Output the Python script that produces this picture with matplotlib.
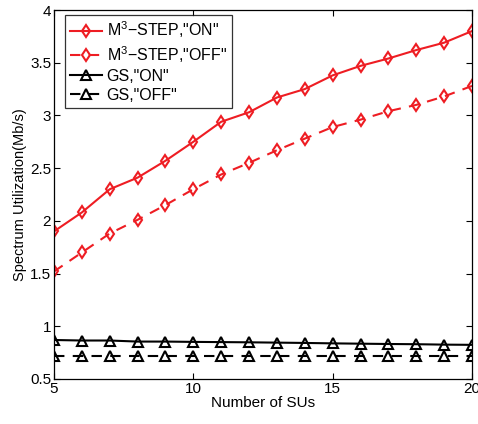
import matplotlib
matplotlib.use("Agg")
import matplotlib.pyplot as plt
from matplotlib.ticker import FormatStrFormatter

plt.rcParams['font.family'] = ['Liberation Sans', 'DejaVu Sans']
plt.rcParams['mathtext.fontset'] = 'custom'
plt.rcParams['mathtext.rm'] = 'Liberation Sans'

# --- data ---
num_sus = list(range(5, 21))
m3_on = [1.90, 2.08, 2.30, 2.41, 2.57, 2.75, 2.94, 3.03, 3.17, 3.25, 3.38, 3.47, 3.54, 3.62, 3.69, 3.80]
m3_off = [1.52, 1.70, 1.88, 2.01, 2.15, 2.30, 2.44, 2.55, 2.67, 2.78, 2.89, 2.96, 3.04, 3.10, 3.18, 3.28]
gs_on = [0.87, 0.865, 0.865, 0.855, 0.855, 0.852, 0.85, 0.848, 0.845, 0.842, 0.838, 0.835, 0.832, 0.83, 0.826, 0.824]
gs_off = [0.72, 0.72, 0.72, 0.72, 0.72, 0.72, 0.72, 0.72, 0.72, 0.72, 0.72, 0.72, 0.72, 0.72, 0.72, 0.72]

RED = '#ee1d23'

fig = plt.figure(figsize=(4.78, 4.24), dpi=100)
ax = fig.add_axes([54 / 478, 1 - 379 / 424, 418 / 478, 369 / 424])

ax.plot(num_sus, m3_on, '-', color=RED, lw=1.5, marker='d', ms=6.5,
        mfc='none', mew=1.5, label='M$^3$\u2212STEP,"ON"')
ax.plot(num_sus, m3_off, '--', color=RED, lw=1.5, marker='d', ms=6.5,
        mfc='none', mew=1.5, label='M$^3$\u2212STEP,"OFF"', dashes=(5, 4))
ax.plot(num_sus, gs_on, '-', color='black', lw=1.5, marker='^', ms=6.5,
        mfc='none', mew=1.5, label='GS,"ON"')
ax.plot(num_sus, gs_off, '--', color='black', lw=1.5, marker='^', ms=6.5,
        mfc='none', mew=1.5, label='GS,"OFF"', dashes=(5, 4))

ax.set_xlim(5, 20)
ax.set_ylim(0.5, 4)
ax.set_xticks([5, 10, 15, 20])
ax.set_yticks([0.5, 1, 1.5, 2, 2.5, 3, 3.5, 4])
ax.yaxis.set_major_formatter(FormatStrFormatter('%g'))
ax.tick_params(direction='in', top=True, right=True, labelsize=11, length=4, pad=2)
for sp in ax.spines.values():
    sp.set_linewidth(0.9)

ax.set_xlabel('Number of SUs', fontsize=11, labelpad=0)
ax.set_ylabel('Spectrum Utilization(Mb/s)', fontsize=10.5, labelpad=2)

leg = ax.legend(loc='upper left', fontsize=11.5, frameon=True, fancybox=False,
                edgecolor='black', borderaxespad=0.3, handlelength=2.0,
                handletextpad=0.3, labelspacing=0.25, borderpad=0.3,
                bbox_to_anchor=(0.015, 1.0))
leg.get_frame().set_linewidth(0.9)

fig.savefig('out.png', dpi=100)
